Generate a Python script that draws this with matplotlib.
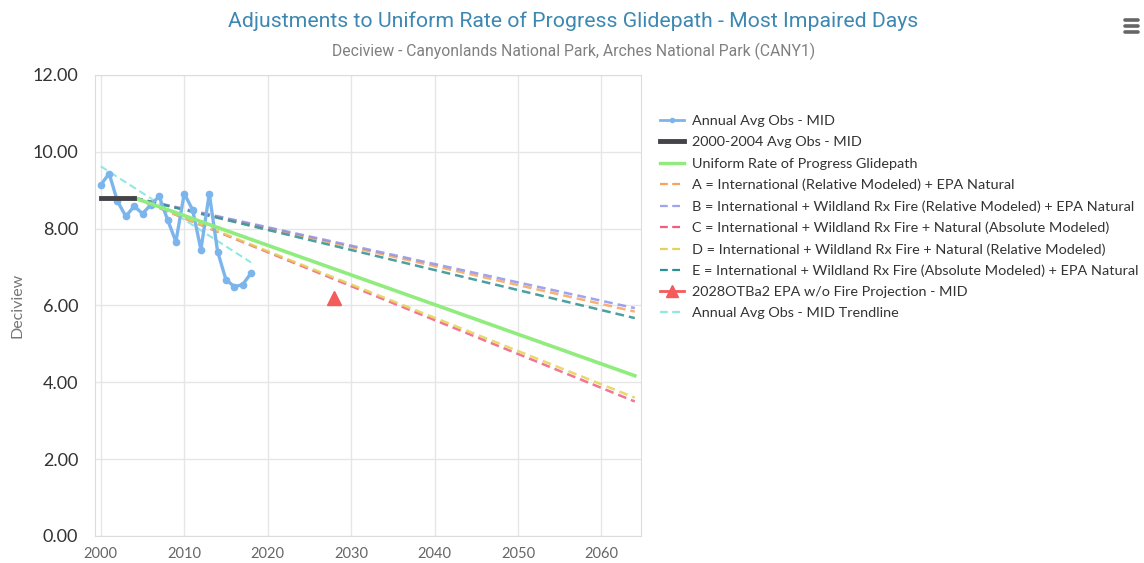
import numpy as np
import matplotlib.pyplot as plt
from matplotlib.lines import Line2D

# observed annual averages, most impaired days
obs_years = list(range(2000, 2019))
obs_vals = [9.14, 9.43, 8.71, 8.32, 8.58, 8.39, 8.62, 8.84, 8.23, 7.66,
            8.91, 8.49, 7.45, 8.91, 7.40, 6.67, 6.49, 6.54, 6.84]

base_years = [2000, 2004]
base_vals = [8.80, 8.80]

# glidepath and adjusted glidepaths (start 2004, end 2064)
path_years = [2004, 2064]
urp_vals = [8.80, 4.17]
adj_a = [8.80, 5.84]
adj_b = [8.80, 5.93]
adj_c = [8.80, 3.50]
adj_d = [8.80, 3.60]
adj_e = [8.80, 5.67]

proj_year = [2028]
proj_val = [6.20]

trend_years = [2000, 2018]
trend_vals = [9.62, 7.12]

x_ticks = [2000, 2010, 2020, 2030, 2040, 2050, 2060]
y_ticks = [0, 2, 4, 6, 8, 10, 12]

labels = [
    "Annual Avg Obs - MID",
    "2000-2004 Avg Obs - MID",
    "Uniform Rate of Progress Glidepath",
    "A = International (Relative Modeled) + EPA Natural",
    "B = International + Wildland Rx Fire (Relative Modeled) + EPA Natural",
    "C = International + Wildland Rx Fire + Natural (Absolute Modeled)",
    "D = International + Wildland Rx Fire + Natural (Relative Modeled)",
    "E = International + Wildland Rx Fire (Absolute Modeled) + EPA Natural",
    "2028OTBa2 EPA w/o Fire Projection - MID",
    "Annual Avg Obs - MID Trendline",
]

fig = plt.figure(figsize=(11.44, 5.63), dpi=100)
ax = fig.add_axes([0.083, 0.048, 0.477, 0.819])

dash = (0, (3.5, 2))
ax.plot(trend_years, trend_vals, color="#91e8e1", lw=1.5, ls=dash, zorder=2)
ax.plot(obs_years, obs_vals, color="#7cb5ec", lw=2.4, marker="o", ms=4.5, zorder=3)
ax.plot(path_years, adj_a, color="#f7a35c", lw=1.8, ls=dash, alpha=0.85, zorder=2)
ax.plot(path_years, adj_b, color="#8085e9", lw=1.8, ls=dash, alpha=0.75, zorder=2)
ax.plot(path_years, adj_c, color="#f15c80", lw=1.8, ls=dash, alpha=0.85, zorder=2)
ax.plot(path_years, adj_d, color="#e4d354", lw=1.8, ls=dash, alpha=0.85, zorder=2)
ax.plot(path_years, adj_e, color="#2b908f", lw=1.8, ls=dash, alpha=0.85, zorder=2)
ax.plot(path_years, urp_vals, color="#90ed7d", lw=2.6, zorder=3)
ax.plot(base_years, base_vals, color="#434348", lw=3.5, zorder=4)
ax.plot(proj_year, proj_val, color="#f45b5b", marker="^", ms=10, ls="none", zorder=5)

ax.set_xlim(1999.3, 2064.7)
ax.set_ylim(0, 12)
ax.set_xticks(x_ticks)
ax.set_yticks(y_ticks)
ax.set_yticklabels([f"{v:.2f}" for v in y_ticks], fontsize=13, color="#333333",
                   family="Lato")
ax.set_xticklabels([str(v) for v in x_ticks], fontsize=10.5, color="#666666",
                   family="Lato")
ax.tick_params(length=0)
ax.tick_params(axis="x", pad=8)
ax.tick_params(axis="y", pad=12)
ax.grid(True, color="#e6e6e6", lw=1)
ax.set_axisbelow(True)
for s in ax.spines.values():
    s.set_color("#dcdcdc")
ax.set_ylabel("Deciview", fontsize=11.5, color="#777777", family="Lato", labelpad=6)

handles = [
    Line2D([], [], color="#7cb5ec", lw=2, marker="o", ms=3),
    Line2D([], [], color="#434348", lw=3.5),
    Line2D([], [], color="#90ed7d", lw=2.4),
    Line2D([], [], color="#f7a35c", lw=1.6, ls=dash),
    Line2D([], [], color="#8085e9", lw=1.6, ls=dash, alpha=0.75),
    Line2D([], [], color="#f15c80", lw=1.6, ls=dash),
    Line2D([], [], color="#e4d354", lw=1.6, ls=dash),
    Line2D([], [], color="#2b908f", lw=1.6, ls=dash),
    Line2D([], [], color="#f45b5b", lw=2, marker="^", ms=9),
    Line2D([], [], color="#91e8e1", lw=1.6, ls=dash),
]
fig.legend(handles, labels, loc="upper left", bbox_to_anchor=(0.571, 0.808),
           frameon=False, prop={"family": "Lato", "size": 10.4},
           labelcolor="#333333", handlelength=1.6, handletextpad=0.6,
           labelspacing=0.62, borderpad=0)

fig.text(0.501, 0.963, "Adjustments to Uniform Rate of Progress Glidepath - Most Impaired Days",
         ha="center", va="center", fontsize=15.3, color="#3d88b3", family="Roboto")
fig.text(0.501, 0.909, "Deciview - Canyonlands National Park, Arches National Park (CANY1)",
         ha="center", va="center", fontsize=11.3, color="#808080", family="Roboto")

# menu icon
for yy in [0.964, 0.954, 0.944]:
    fig.add_artist(Line2D([0.9835, 0.9945], [yy, yy], color="#666666", lw=2.6,
                          solid_capstyle="round"))

fig.savefig("out.png", dpi=100)
